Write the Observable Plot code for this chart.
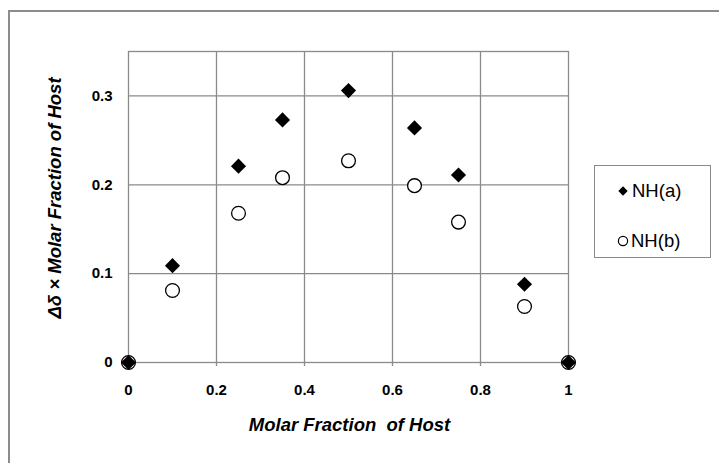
<!DOCTYPE html>
<html>
<head>
<meta charset="utf-8">
<script src="https://cdn.jsdelivr.net/npm/d3@7"></script>
<script src="https://cdn.jsdelivr.net/npm/@observablehq/plot@0.6"></script>
<style>
  html, body { margin: 0; padding: 0; background: #fff; }
  #wrap { position: relative; width: 719px; height: 463px; overflow: hidden; font-family: "Liberation Sans", Arial, sans-serif; background: #fff; }
  .bline { position: absolute; background: #8c8c8c; z-index: 3; }
  #chart { position: absolute; left: 0; top: 0; z-index: 1; }
  #chart svg { background: transparent !important; }
  #chart svg text { white-space: pre; }
  #legend { position: absolute; left: 594px; top: 165px; width: 117px; height: 93px; border: 1px solid #8a8a8a; box-sizing: border-box; background: #fff; font-size: 18.5px; color: #000; z-index: 2; }
  .item { position: absolute; left: 0; display: flex; align-items: center; height: 22px; }
  .item svg { display: block; }
</style>
</head>
<body>
<div id="wrap">
  <div id="chart"></div>
  <div id="legend"></div>
  <div class="bline" style="left:8px; top:10px; width:711px; height:2px;"></div>
  <div class="bline" style="left:8px; top:10px; width:2px; height:453px;"></div>
</div>
<script>
// ---- data ----
const molarFraction = [0, 0.1, 0.25, 0.35, 0.5, 0.65, 0.75, 0.9, 1];
const nhA = [0, 0.109, 0.221, 0.273, 0.306, 0.264, 0.211, 0.088, 0];
const nhB = [0, 0.081, 0.168, 0.208, 0.227, 0.199, 0.158, 0.063, 0];
const seriesNames = ["NH(a)", "NH(b)"];
const xTicks = [0, 0.2, 0.4, 0.6, 0.8, 1];
const yTicks = [0, 0.1, 0.2, 0.3];
const xTitle = "Molar Fraction  of Host";
const yTitle = "\u0394\u03b4 \u00d7 Molar Fraction of Host";

const rowsA = molarFraction.map((x, i) => ({x, y: nhA[i]}));
const rowsB = molarFraction.map((x, i) => ({x, y: nhB[i]}));
const gray = "#8a8a8a";

const plot = Plot.plot({
  width: 719,
  height: 463,
  marginLeft: 128,
  marginRight: 151,
  marginTop: 51,
  marginBottom: 101,
  style: {fontFamily: "'Liberation Sans', Arial, sans-serif", background: "transparent", overflow: "visible"},
  x: {domain: [0, 1]},
  y: {domain: [0, 0.35]},
  marks: [
    Plot.gridX(xTicks.slice(1, -1), {stroke: gray, strokeOpacity: 1, strokeWidth: 1.3}),
    Plot.gridY(yTicks.slice(1), {stroke: gray, strokeOpacity: 1, strokeWidth: 1.3}),
    Plot.frame({stroke: gray, strokeWidth: 1.3}),
    Plot.axisX(xTicks, {
      tickSize: 4, tickPadding: 18, stroke: gray, strokeWidth: 1.3,
      tickFormat: d => String(d), fontSize: 15, fontWeight: "bold", fill: "#000", label: null
    }),
    Plot.axisY(yTicks, {
      tickSize: 0, tickPadding: 16, tickFormat: d => String(d),
      fontSize: 15, fontWeight: "bold", fill: "#000", label: null
    }),
    Plot.dot(rowsB, {x: "x", y: "y", r: 6.9, fill: "#fff", stroke: "#000", strokeWidth: 1.3}),
    Plot.dot(rowsA, {x: "x", y: "y", r: 6.8, symbol: "diamond2", fill: "#000", stroke: "none"}),
    Plot.text([xTitle], {
      text: d => d, frameAnchor: "bottom", dy: 63, dx: 1, lineAnchor: "middle", textAnchor: "middle",
      fontSize: 18.5, fontWeight: "bold", fontStyle: "italic", fill: "#000"
    }),
    Plot.text([yTitle], {
      text: d => d, frameAnchor: "left", dx: -73, dy: -9, rotate: -90, lineAnchor: "middle", textAnchor: "middle",
      fontSize: 18.5, fontWeight: "bold", fontStyle: "italic", fill: "#000"
    })
  ]
});
document.getElementById("chart").appendChild(plot);

// ---- legend ----
const legend = document.getElementById("legend");
const symbols = [
  '<svg width="12" height="12" viewBox="-6 -6 12 12"><path d="M0,-4.7L4.7,0L0,4.7L-4.7,0Z" fill="#000"/></svg>',
  '<svg width="12" height="12" viewBox="-6 -6 12 12"><circle r="4.6" fill="#fff" stroke="#000" stroke-width="1.2"/></svg>'
];
const tops = [14, 64];
const lefts = [22, 22];
seriesNames.forEach((name, i) => {
  const div = document.createElement("div");
  div.className = "item";
  div.style.top = tops[i] + "px";
  div.style.left = lefts[i] + "px";
  div.innerHTML = symbols[i] + '<span style="margin-left:' + (i === 0 ? 3 : 2) + 'px">' + name + '</span>';
  legend.appendChild(div);
});
</script>
</body>
</html>
